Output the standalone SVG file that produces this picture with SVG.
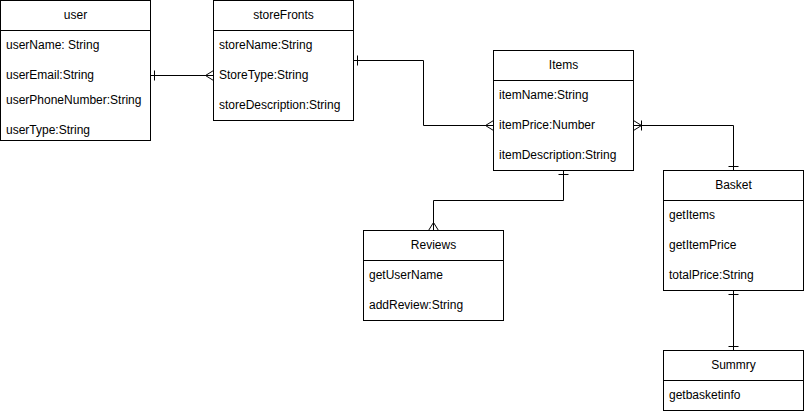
<svg xmlns="http://www.w3.org/2000/svg" width="804" height="411" viewBox="0 0 804 411">
<style>
.box{fill:#fff;stroke:#000;stroke-width:1}
.div{stroke:#000;stroke-width:1}
text{font-family:"Liberation Sans",Arial,sans-serif;font-size:12px;fill:#000}
.t{text-anchor:middle}
.c{fill:none;stroke:#000;stroke-width:1}
</style>
<rect width="804" height="411" fill="#fff"/>
<g id="connectors">
  <!-- user - storeFronts -->
  <path class="c" d="M150.5 75.5H213.5"/>
  <path class="c" d="M154.5 70.5V80.5"/>
  <path class="c" d="M213.5 70.5L205.5 75.5L213.5 80.5"/>
  <!-- storeFronts - Items -->
  <path class="c" d="M353.5 60.5H423.5V125.5H493.5"/>
  <path class="c" d="M357.5 55.5V65.5"/>
  <path class="c" d="M493.5 120.5L485.5 125.5L493.5 130.5"/>
  <!-- Items - Basket -->
  <path class="c" d="M633.5 125.5H733.5V170.5"/>
  <path class="c" d="M633.5 120.5L641.5 125.5L633.5 130.5"/>
  <path class="c" d="M641.5 120.5V130.5"/>
  <path class="c" d="M728.5 166.5H738.5"/>
  <!-- Items - Reviews -->
  <path class="c" d="M563.5 170.5V200.5H433.5V230.5"/>
  <path class="c" d="M558.5 174.5H568.5"/>
  <path class="c" d="M428.5 230.5L433.5 222.5L438.5 230.5"/>
  <!-- Basket - Summry -->
  <path class="c" d="M733.5 290.5V350.5"/>
  <path class="c" d="M728.5 294.5H738.5"/>
  <path class="c" d="M728.5 346.5H738.5"/>
</g>
<g id="user">
  <rect class="box" x="0.5" y="0.5" width="150" height="140"/>
  <path class="div" d="M0.5 30.5H150.5"/>
  <text class="t" x="75.5" y="19">user</text>
  <text x="6" y="49">userName: String</text>
  <text x="6" y="79">userEmail:String</text>
  <text x="6" y="104">userPhoneNumber:String</text>
  <text x="6" y="134">userType:String</text>
</g>
<g id="storeFronts">
  <rect class="box" x="213.5" y="0.5" width="140" height="120"/>
  <path class="div" d="M213.5 30.5H353.5"/>
  <text class="t" x="283.5" y="19">storeFronts</text>
  <text x="219" y="49">storeName:String</text>
  <text x="219" y="79">StoreType:String</text>
  <text x="219" y="109">storeDescription:String</text>
</g>
<g id="Items">
  <rect class="box" x="493.5" y="50.5" width="140" height="120"/>
  <path class="div" d="M493.5 80.5H633.5"/>
  <text class="t" x="563.5" y="69">Items</text>
  <text x="499" y="99">itemName:String</text>
  <text x="499" y="129">itemPrice:Number</text>
  <text x="499" y="159">itemDescription:String</text>
</g>
<g id="Basket">
  <rect class="box" x="663.5" y="170.5" width="140" height="120"/>
  <path class="div" d="M663.5 200.5H803.5"/>
  <text class="t" x="733.5" y="189">Basket</text>
  <text x="669" y="219">getItems</text>
  <text x="669" y="249">getItemPrice</text>
  <text x="669" y="279">totalPrice:String</text>
</g>
<g id="Reviews">
  <rect class="box" x="363.5" y="230.5" width="140" height="90"/>
  <path class="div" d="M363.5 260.5H503.5"/>
  <text class="t" x="433.5" y="249">Reviews</text>
  <text x="369" y="279">getUserName</text>
  <text x="369" y="309">addReview:String</text>
</g>
<g id="Summry">
  <rect class="box" x="663.5" y="350.5" width="140" height="60"/>
  <path class="div" d="M663.5 380.5H803.5"/>
  <text class="t" x="733.5" y="369">Summry</text>
  <text x="669" y="399">getbasketinfo</text>
</g>
</svg>
